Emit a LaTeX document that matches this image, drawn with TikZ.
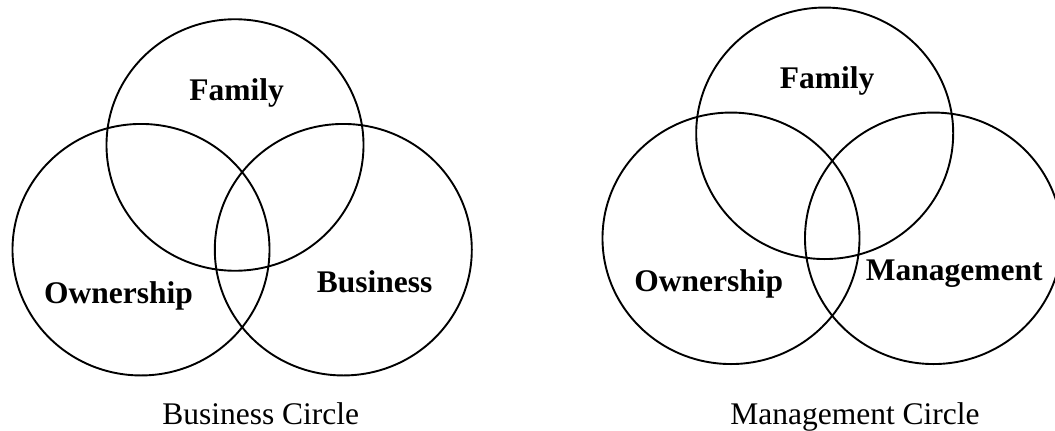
\documentclass[tikz,border=0pt]{standalone}
\usepackage{fontspec}
\setmainfont{Liberation Serif}
\usetikzlibrary{shapes.geometric}
\begin{document}
\begin{tikzpicture}[x=1pt,y=-1pt,
  set/.style={draw,line width=1.9pt,ellipse,inner sep=0pt,minimum width=257pt,minimum height=251.5pt},
  lbl/.style={font=\fontsize{31.5}{36}\selectfont\bfseries,anchor=base,inner sep=0pt},
  captext/.style={font=\fontsize{31.5}{36}\selectfont,anchor=base,inner sep=0pt}]
\useasboundingbox (0,0) rectangle (1055,431);
% Business Circle
\node[set] (lf) at (235,145) {};
\node[set] (lo) at (141,249.7) {};
\node[set] (lb) at (343.3,249.7) {};
\node[lbl] (lft) at (236.7,100.7) {Family};
\node[lbl] (lot) at (118.5,303.3) {Ownership};
\node[lbl] (lbt) at (374.7,292.7) {Business};
\node[captext] (lcap) at (260.7,424) {Business Circle};
% Management Circle
\node[set] (rf) at (824.7,133.3) {};
\node[set] (ro) at (731,238.3) {};
\node[set] (rm) at (933.5,238.3) {};
\node[lbl] (rft) at (827,88.3) {Family};
\node[lbl] (rot) at (708.8,291.7) {Ownership};
\node[lbl] (rmt) at (954.2,280.7) {Management};
\node[captext] (rcap) at (855,424) {Management Circle};
\end{tikzpicture}
\end{document}
